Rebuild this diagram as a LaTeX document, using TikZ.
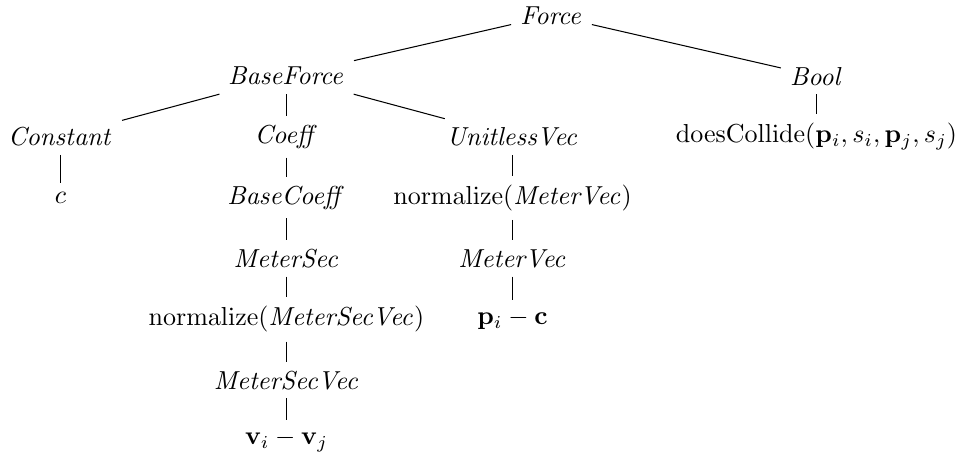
\documentclass[tikz,border=0pt]{standalone}
\usepackage{amsmath}
\begin{document}
\begin{tikzpicture}[x=0.3846pt,y=-0.3846pt,
  tn/.style={inner sep=0.3333em},
  edge/.style={draw, line width=0.4pt}]
\useasboundingbox (0,0) rectangle (962,454);
% level 0
\node[tn] (force) at (551.5,15.3) {$\mathit{Force}$};
% level 1
\node[tn] (baseforce) at (286.5,76.1) {$\mathit{BaseForce}$};
\node[tn] (bool) at (816.5,76.1) {$\mathit{Bool}$};
% level 2
\node[tn] (constant) at (60.5,136.9) {$\mathit{Constant}$};
\node[tn] (coeff) at (286.5,136.9) {$\mathit{Coeff}$};
\node[tn] (unitless) at (512.5,136.9) {$\mathit{UnitlessVec}$};
\node[tn] (collide) at (816.5,136.9) {$\mathrm{doesCollide}(\mathbf{p}_i, s_i, \mathbf{p}_j, s_j)$};
% level 3
\node[tn] (c) at (60.5,197.7) {$c$};
\node[tn] (basecoeff) at (286.5,197.7) {$\mathit{BaseCoeff}$};
\node[tn] (normmv) at (512.5,197.7) {$\mathrm{normalize}(\mathit{MeterVec})$};
% level 4
\node[tn] (metersec) at (286.5,258.5) {$\mathit{MeterSec}$};
\node[tn] (metervec) at (512.5,258.5) {$\mathit{MeterVec}$};
% level 5
\node[tn] (normmsv) at (286.5,319.3) {$\mathrm{normalize}(\mathit{MeterSecVec})$};
\node[tn] (pic) at (512.5,319.3) {$\mathbf{p}_i - \mathbf{c}$};
% level 6
\node[tn] (metersecvec) at (286.5,380.1) {$\mathit{MeterSecVec}$};
% level 7
\node[tn] (vij) at (286.5,440.9) {$\mathbf{v}_i - \mathbf{v}_j$};
% edges
\path[edge] (force) -- (baseforce);
\path[edge] (force) -- (bool);
\path[edge] (baseforce) -- (constant);
\path[edge] (baseforce) -- (coeff);
\path[edge] (baseforce) -- (unitless);
\path[edge] (bool) -- (collide);
\path[edge] (constant) -- (c);
\path[edge] (coeff) -- (basecoeff);
\path[edge] (unitless) -- (normmv);
\path[edge] (basecoeff) -- (metersec);
\path[edge] (normmv) -- (metervec);
\path[edge] (metersec) -- (normmsv);
\path[edge] (metervec) -- (pic);
\path[edge] (normmsv) -- (metersecvec);
\path[edge] (metersecvec) -- (vij);
\end{tikzpicture}
\end{document}
